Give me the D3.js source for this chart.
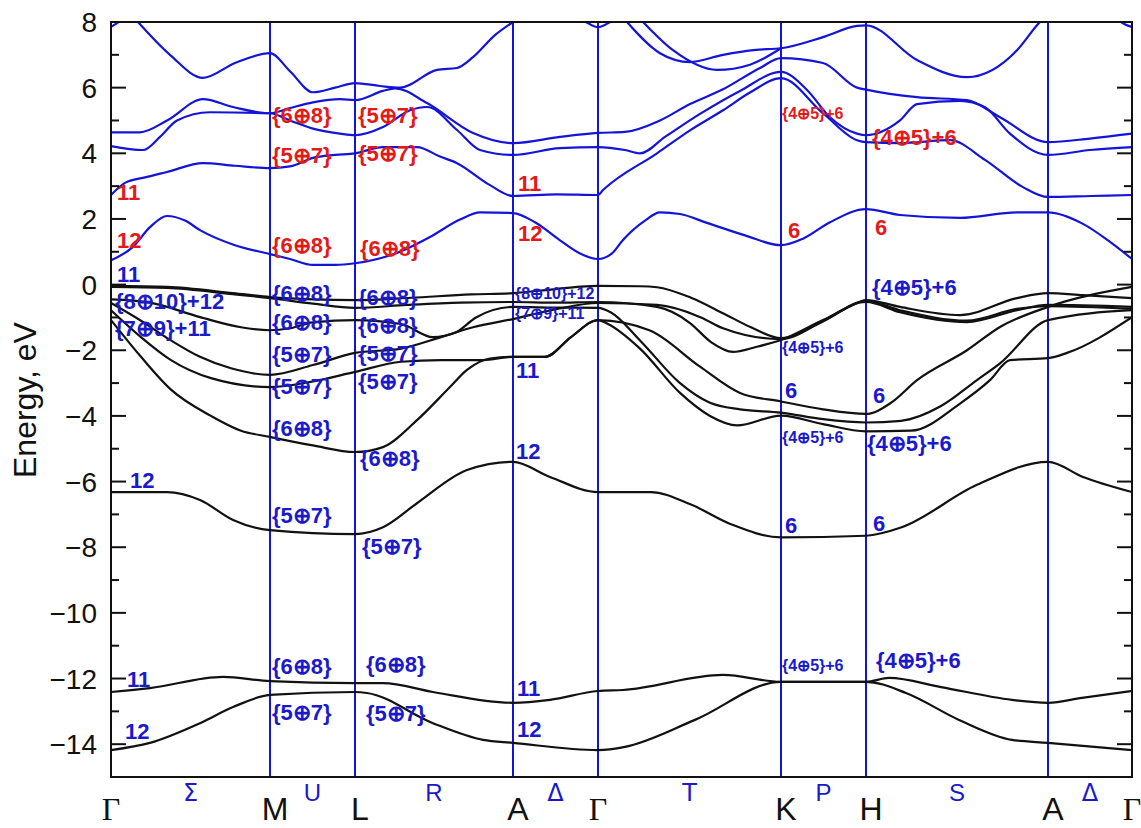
<!DOCTYPE html>
<html><head><meta charset="utf-8">
<script src="https://cdn.jsdelivr.net/npm/d3@7"></script>
<style>body{margin:0;background:#fff}svg{display:block}</style>
</head><body>
<svg id="chart" width="1141" height="828"></svg>
<script>
// ---------- data ----------
const kLabels = ["Γ","M","L","A","Γ","K","H","A","Γ"];
const kPos = [0,159,244,402,487,670,755,937,1021];
const pathLabels = ["Σ","U","R","Δ","T","P","S","Δ"];
const yTickLabels = [8,6,4,2,0,-2,-4,-6,-8,-10,-12,-14];

// conduction bands: [k, E(eV)]
const condBand1 = [[0,0.74],[22,1.15],[39,1.75],[56,2.09],[74,1.95],[89,1.66],[124,1.2],[159,0.93],[179,0.78],[202,0.6],[224,0.6],[244,0.65],[289,1.0],[319,1.45],[349,1.98],[369,2.2],[402,2.18],[424,1.9],[449,1.35],[469,0.95],[487,0.78],[501,0.95],[512,1.36],[534,1.95],[549,2.2],[569,2.15],[596,1.88],[634,1.5],[670,1.2],[692,1.4],[719,1.9],[755,2.3],[789,2.12],[849,2.03],[906,2.2],[937,2.2],[972,1.85],[999,1.3],[1021,0.78]];
const condBand2 = [[0,2.73],[14,3.1],[36,3.28],[56,3.43],[92,3.7],[124,3.62],[159,3.55],[179,3.6],[202,3.86],[224,3.95],[244,4.0],[272,4.19],[306,4.19],[329,3.9],[346,3.7],[379,3.03],[402,2.7],[446,2.75],[487,2.73],[492,2.88],[546,4.0],[579,4.7],[612,5.31],[639,5.85],[670,6.29],[712,5.22],[746,4.4],[755,4.34],[789,4.31],[839,4.4],[874,3.8],[912,2.97],[937,2.67],[980,2.7],[1021,2.73]];
const condBand3 = [[0,4.22],[32,4.1],[49,4.5],[66,5.0],[99,5.25],[159,5.22],[179,5.0],[202,4.75],[229,4.6],[244,4.55],[272,4.8],[299,5.31],[316,5.41],[346,4.71],[369,4.1],[402,3.95],[449,4.16],[487,4.19],[514,4.1],[529,4.0],[554,4.5],[589,5.2],[629,5.9],[670,6.48],[696,5.93],[719,5.1],[746,4.6],[755,4.55],[789,5.0],[806,5.5],[849,5.6],[874,5.4],[899,4.6],[937,3.95],[979,4.1],[1021,4.19]];
const condBand4 = [[0,4.64],[29,4.64],[56,5.0],[92,5.65],[122,5.41],[159,5.22],[179,5.38],[202,5.55],[229,5.65],[244,5.62],[272,5.9],[284,5.98],[316,5.53],[362,4.62],[402,4.31],[449,4.5],[487,4.62],[514,4.65],[549,5.0],[579,5.5],[612,5.95],[649,6.6],[670,6.9],[712,6.75],[746,6.0],[755,5.94],[806,5.71],[856,5.62],[889,5.1],[937,4.34],[979,4.45],[1021,4.6]];
const condBand5 = [[27,8.0],[59,7.0],[92,6.3],[124,6.75],[159,7.05],[179,6.5],[202,5.86],[224,6.0],[244,6.14],[269,6.05],[289,6.0],[326,6.54],[346,6.6],[362,6.93],[384,7.6],[402,8.0]];
const condBand6 = [[516,8.0],[549,7.05],[579,6.78],[612,7.0],[645,7.15],[670,7.2],[712,7.54],[746,7.88],[755,7.9],[806,6.84],[856,6.32],[906,7.14],[926,7.9],[935,8.2]];
const condBand7 = [[532,8.0],[562,7.14],[606,6.54],[639,6.7],[670,7.2]];
const condBand8 = [[0,7.85],[10,8.05],[20,8.3]];
const condBand9 = [[460,8.3],[475,8.0],[487,7.84],[499,8.0],[514,8.3]];
const condBand10 = [[1000,8.3],[1010,8.0],[1021,7.85]];

// valence bands
const valBand1 = [[0,-0.04],[56,-0.07],[122,-0.26],[159,-0.38],[202,-0.45],[244,-0.47],[300,-0.4],[360,-0.3],[402,-0.26],[440,-0.15],[470,-0.06],[487,-0.04],[529,-0.05],[546,-0.08],[580,-0.4],[612,-0.87],[640,-1.3],[670,-1.63],[712,-1.1],[740,-0.65],[755,-0.47],[789,-0.68],[849,-0.93],[906,-0.41],[937,-0.26],[972,-0.32],[1021,-0.41]];
const valBand2 = [[0,-0.45],[39,-0.55],[89,-0.99],[130,-1.3],[159,-1.39],[179,-1.33],[202,-1.15],[244,-1.08],[290,-1.2],[322,-1.6],[345,-1.45],[365,-1.0],[402,-0.68],[445,-0.7],[487,-0.71],[500,-0.85],[529,-1.7],[569,-3.0],[599,-3.6],[629,-3.8],[670,-3.9],[712,-4.1],[755,-4.2],[790,-4.15],[830,-3.7],[866,-2.91],[889,-2.4],[937,-1.08],[1021,-0.78]];
const valBand3 = [[0,-0.56],[30,-1.1],[60,-1.7],[89,-2.2],[120,-2.55],[159,-2.75],[202,-2.45],[244,-2.08],[290,-1.95],[330,-1.6],[362,-1.3],[402,-1.05],[445,-0.75],[487,-0.56],[546,-0.62],[590,-1.0],[612,-1.33],[670,-1.66],[712,-1.12],[755,-0.5],[789,-0.78],[856,-1.1],[906,-0.74],[937,-0.66],[1021,-0.74]];
const valBand4 = [[0,-0.78],[30,-1.6],[60,-2.3],[100,-2.85],[159,-3.12],[202,-2.95],[244,-2.66],[290,-2.35],[330,-2.3],[372,-2.3],[402,-2.2],[434,-2.2],[460,-1.6],[487,-1.08],[497,-1.2],[529,-1.95],[569,-3.3],[599,-4.0],[626,-4.29],[670,-3.99],[712,-4.25],[755,-4.47],[800,-4.45],[850,-3.6],[879,-2.91],[899,-2.3],[937,-2.24],[956,-2.08],[1021,-0.99]];
const valBand5 = [[0,-1.08],[30,-2.2],[60,-3.2],[100,-4.0],[130,-4.45],[159,-4.64],[202,-4.9],[244,-5.1],[272,-4.95],[306,-4.13],[339,-3.12],[356,-2.6],[379,-2.25],[402,-2.2],[434,-2.2],[460,-1.6],[487,-1.08],[539,-1.4],[589,-2.5],[629,-3.3],[670,-3.56],[712,-3.8],[755,-3.94],[780,-3.6],[806,-2.91],[856,-2.0],[889,-1.29],[937,-0.68],[1021,-0.07]];
const valBand6 = [[0,-0.07],[56,-0.1],[122,-0.29],[159,-0.41],[202,-0.58],[244,-0.71],[296,-0.62],[350,-0.55],[402,-0.53],[445,-0.55],[487,-0.53],[546,-0.68],[579,-1.17],[600,-1.75],[622,-2.05],[645,-1.9],[670,-1.69],[712,-1.08],[755,-0.53],[789,-0.84],[856,-1.14],[906,-0.78],[937,-0.62],[1021,-0.68]];
const valBand7 = [[0,-6.32],[56,-6.32],[89,-6.56],[122,-7.17],[159,-7.48],[244,-7.6],[272,-7.39],[306,-6.66],[356,-5.65],[402,-5.4],[439,-5.86],[487,-6.32],[540,-6.32],[580,-6.7],[620,-7.3],[670,-7.7],[755,-7.65],[790,-7.4],[866,-6.1],[937,-5.4],[972,-5.86],[1021,-6.32]];
const valBand8 = [[0,-12.41],[39,-12.29],[112,-11.95],[159,-12.08],[244,-12.14],[272,-12.14],[322,-12.41],[402,-12.74],[439,-12.65],[487,-12.38],[512,-12.35],[612,-11.89],[670,-12.1],[755,-12.1],[778,-11.98],[830,-12.26],[901,-12.65],[937,-12.74],[971,-12.59],[1021,-12.38]];
const valBand9 = [[0,-14.18],[39,-13.96],[89,-13.36],[122,-12.87],[159,-12.5],[244,-12.41],[256,-12.44],[322,-13.36],[372,-13.87],[402,-13.96],[487,-14.18],[514,-14.08],[584,-13.26],[670,-12.1],[755,-12.1],[795,-12.44],[848,-13.26],[901,-13.87],[937,-13.96],[1021,-14.18]];

const conductionBands = [condBand1,condBand2,condBand3,condBand4,condBand5,condBand6,condBand7,condBand8,condBand9,condBand10];
const valenceBands = [valBand1,valBand2,valBand3,valBand4,valBand5,valBand6,valBand7,valBand8,valBand9];

// labels: [k, E, text, small?]
const conductionLabels = [
 [6,2.82,"11",0],[6,1.36,"12",0],
 [161,5.17,"{6⊕8}",0],[247,5.17,"{5⊕7}",0],[161,3.95,"{5⊕7}",0],[247,4.01,"{5⊕7}",0],
 [161,1.21,"{6⊕8}",0],[249,1.11,"{6⊕8}",0],
 [407,3.09,"11",0],[407,1.57,"12",0],
 [671,5.23,"{4⊕5}+6",1],[761,4.5,"{4⊕5}+6",0],[677,1.66,"6",0],[764,1.75,"6",0]
];
const valenceLabels = [
 [6,0.32,"11",0],[4,-0.5,"{8⊕10}+12",0],[4,-1.32,"{7⊕9}+11",0],
 [161,-0.26,"{6⊕8}",0],[161,-1.14,"{6⊕8}",0],[161,-2.12,"{5⊕7}",0],[161,-3.09,"{5⊕7}",0],[161,-4.37,"{6⊕8}",0],
 [247,-0.38,"{6⊕8}",0],[247,-1.23,"{6⊕8}",0],[247,-2.08,"{5⊕7}",0],[247,-2.94,"{5⊕7}",0],[249,-5.28,"{6⊕8}",0],
 [404,-0.26,"{8⊕10}+12",1],[404,-0.87,"{7⊕9}+11",1],[405,-2.6,"11",0],[405,-5.07,"12",0],
 [671,-1.9,"{4⊕5}+6",1],[674,-3.21,"6",0],[671,-4.64,"{4⊕5}+6",1],
 [761,-0.07,"{4⊕5}+6",0],[762,-3.36,"6",0],[756,-4.82,"{4⊕5}+6",0],
 [19,-5.95,"12",0],[161,-7.02,"{5⊕7}",0],[251,-7.96,"{5⊕7}",0],[674,-7.32,"6",0],[762,-7.26,"6",0],
 [16,-12.01,"11",0],[14,-13.6,"12",0],[161,-11.62,"{6⊕8}",0],[161,-13.02,"{5⊕7}",0],
 [255,-11.56,"{6⊕8}",0],[255,-13.05,"{5⊕7}",0],[406,-12.29,"11",0],[406,-13.54,"12",0],
 [671,-11.59,"{4⊕5}+6",1],[765,-11.46,"{4⊕5}+6",0]
];

// ---------- drawing ----------
const BLUE = "#1414d8", RED = "#e31a1a", LBLUE = "#1a1acc";
const svg = d3.select("#chart");
const x = d3.scaleLinear().domain([0,1021]).range([111,1132]);
const y = d3.scaleLinear().domain([-15,8]).range([777,22]);

svg.append("defs").append("clipPath").attr("id","plotclip")
  .append("rect").attr("x",x(0)).attr("y",y(8)).attr("width",x(1021)-x(0)).attr("height",y(-15)-y(8));

// vertical symmetry lines
svg.append("g").selectAll("line").data(kPos.slice(1,-1)).join("line")
  .attr("x1",d=>x(d)).attr("x2",d=>x(d)).attr("y1",y(8)).attr("y2",y(-15))
  .attr("stroke",BLUE).attr("stroke-width",2);

const line = d3.line().x(d=>x(d[0])).y(d=>y(d[1])).curve(d3.curveMonotoneX);
const bands = svg.append("g").attr("clip-path","url(#plotclip)").attr("fill","none").attr("stroke-width",2.2);
bands.selectAll("path.c").data(conductionBands).join("path").attr("class","c").attr("d",line).attr("stroke",BLUE);
bands.selectAll("path.v").data(valenceBands).join("path").attr("class","v").attr("d",line).attr("stroke","#111");

// frame
svg.append("rect").attr("x",x(0)).attr("y",y(8)).attr("width",x(1021)-x(0)).attr("height",y(-15)-y(8))
  .attr("fill","none").attr("stroke","#111").attr("stroke-width",2);

// ticks
const allTicks = d3.range(-15,9,1);
const tg = svg.append("g").attr("stroke","#111").attr("stroke-width",2);
allTicks.forEach(t=>{
  const len = (t%2===0)?15:8;
  tg.append("line").attr("x1",x(0)).attr("x2",x(0)+len).attr("y1",y(t)).attr("y2",y(t));
  tg.append("line").attr("x1",x(1021)).attr("x2",x(1021)-len).attr("y1",y(t)).attr("y2",y(t));
});
const fmt = d3.format("d");
svg.append("g").selectAll("text").data(yTickLabels).join("text")
  .attr("x",97).attr("y",d=>y(d)).attr("dy","0.36em").attr("text-anchor","end")
  .attr("font-family","Liberation Sans, Arial, sans-serif").attr("font-size",28).attr("fill","#111")
  .text(d=>fmt(d));

svg.append("text").attr("transform","translate(36,400) rotate(-90)").attr("text-anchor","middle")
  .attr("font-family","Liberation Sans, Arial, sans-serif").attr("font-size",32).attr("fill","#111")
  .text("Energy, eV");

// k labels
svg.append("g").selectAll("text").data(kLabels).join("text")
  .attr("x",(d,i)=>x(kPos[i]) + (d==="Γ"?0:5)).attr("y",820).attr("text-anchor","middle")
  .attr("font-family",d=>d==="Γ"?"Liberation Serif, Times New Roman, serif":"Liberation Sans, Arial, sans-serif")
  .attr("font-size",32).attr("fill","#111").text(d=>d);
svg.append("g").selectAll("text").data(pathLabels).join("text")
  .attr("x",(d,i)=>x((kPos[i]+kPos[i+1])/2)).attr("y",801).attr("text-anchor","middle")
  .attr("font-family",d=>("ΣΔT".includes(d))?"DejaVu Sans, sans-serif":"Liberation Sans, Arial, sans-serif")
  .attr("font-size",24).attr("fill",LBLUE).text(d=>d);

// band labels
function drawLabels(data,color){
  svg.append("g").selectAll("text").data(data).join("text")
    .attr("x",d=>x(d[0])).attr("y",d=>y(d[1])).attr("dy","0.35em")
    .attr("font-family","Liberation Sans, Arial, sans-serif").attr("font-weight","bold")
    .attr("font-size",d=>d[3]?16:22).attr("fill",color).text(d=>d[2]);
}
drawLabels(conductionLabels,RED);
drawLabels(valenceLabels,LBLUE);
</script>
</body></html>
